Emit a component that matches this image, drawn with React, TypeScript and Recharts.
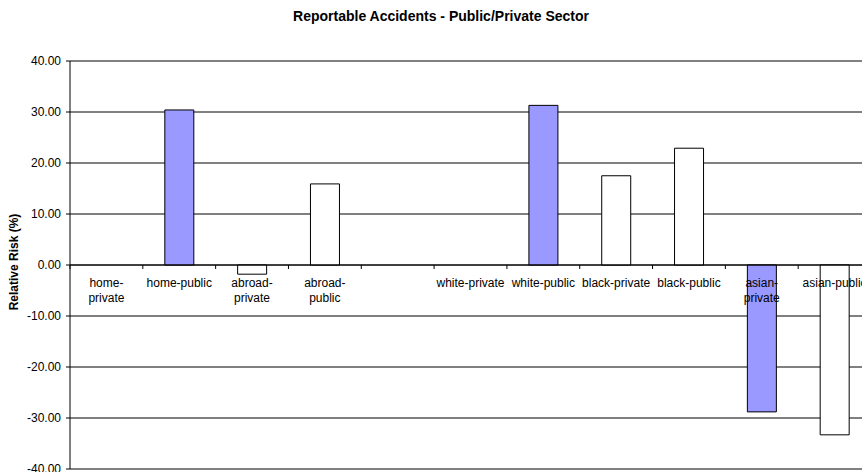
import { Bar, BarChart, CartesianGrid, Cell, ReferenceLine, XAxis, YAxis } from "recharts";

const categories = [
  "home-private",
  "home-public",
  "abroad-private",
  "abroad-public",
  "",
  "white-private",
  "white-public",
  "black-private",
  "black-public",
  "asian-private",
  "asian-public",
];
// how each category label is broken over lines on the axis
const tickLabels = [
  ["home-", "private"],
  ["home-public"],
  ["abroad-", "private"],
  ["abroad-", "public"],
  [""],
  ["white-private"],
  ["white-public"],
  ["black-private"],
  ["black-public"],
  ["asian-", "private"],
  ["asian-public"],
];
const relativeRisk = [null, 30.4, -1.8, 15.9, null, null, 31.3, 17.5, 22.9, -28.8, -33.3];
const highlighted = [false, true, false, false, false, false, true, false, false, true, false];
const yTicks = [-40, -30, -20, -10, 0, 10, 20, 30, 40];

const data = categories.map((c, i) => ({ name: c, value: relativeRisk[i] }));

const W = 880;
const H = 472;
const margin = { top: 61, right: 9, bottom: 2, left: 0 };
const axisW = 70;
const xAxisH = 1;
const plotW = W - margin.left - margin.right - axisW;
const plotH = H - margin.top - margin.bottom - xAxisH;
const yMin = -40;
const yMax = 40;
const zeroY = margin.top + (plotH * yMax) / (yMax - yMin);
const band = plotW / categories.length;
const font = "'Liberation Sans', Arial, sans-serif";

function CategoryTick(props: any) {
  const { x, index } = props;
  const lines = tickLabels[index] || [];
  return (
    <g>
      <line x1={x - band / 2} x2={x - band / 2} y1={zeroY} y2={zeroY + 4} stroke="#000" />
      <text x={x} y={zeroY + 22} textAnchor="middle" fontSize={12} fill="#000" fontFamily={font}>
        {lines.map((l: string, k: number) => (
          <tspan key={k} x={x} dy={k === 0 ? 0 : 15}>
            {l}
          </tspan>
        ))}
      </text>
    </g>
  );
}

export default function App() {
  return (
    <div
      style={{
        position: "absolute",
        left: 0,
        top: 0,
        width: 862,
        height: 472,
        overflow: "hidden",
        background: "#fff",
        fontFamily: font,
      }}
    >
      <div
        style={{
          position: "absolute",
          left: 0,
          width: 882,
          top: 8,
          textAlign: "center",
          fontSize: 14,
          fontWeight: "bold",
        }}
      >
        Reportable Accidents - Public/Private Sector
      </div>
      <BarChart width={W} height={H} data={data} margin={margin} style={{ fontFamily: font }}>
        <CartesianGrid horizontal vertical={false} stroke="#000" ticks={yTicks} />
        <ReferenceLine y={yMax} stroke="#808080" strokeWidth={2} />
        <ReferenceLine y={yMin} stroke="#808080" strokeWidth={2} />
        <Bar dataKey="value" barSize={29} stroke="#000" strokeWidth={1} isAnimationActive={false}>
          {data.map((d, i) => (
            <Cell key={i} fill={highlighted[i] ? "#9999FF" : "#FFFFFF"} />
          ))}
        </Bar>
        <ReferenceLine y={0} stroke="#000" />
        <XAxis
          dataKey="name"
          axisLine={false}
          tickLine={false}
          height={xAxisH}
          interval={0}
          tick={<CategoryTick />}
        />
        <YAxis
          width={axisW}
          domain={[yMin, yMax]}
          ticks={yTicks}
          interval={0}
          tickFormatter={(v: number) => v.toFixed(2)}
          tick={{ fontSize: 12, fill: "#000" }}
          tickMargin={5}
          tickSize={4}
          axisLine={{ stroke: "#000" }}
          tickLine={{ stroke: "#000" }}
          label={{
            value: "Relative Risk (%)",
            angle: -90,
            position: "insideLeft",
            offset: 14,
            dy: -3,
            style: { fontSize: 12, fontWeight: "bold", fill: "#000", textAnchor: "middle" },
          }}
        />
      </BarChart>
    </div>
  );
}
